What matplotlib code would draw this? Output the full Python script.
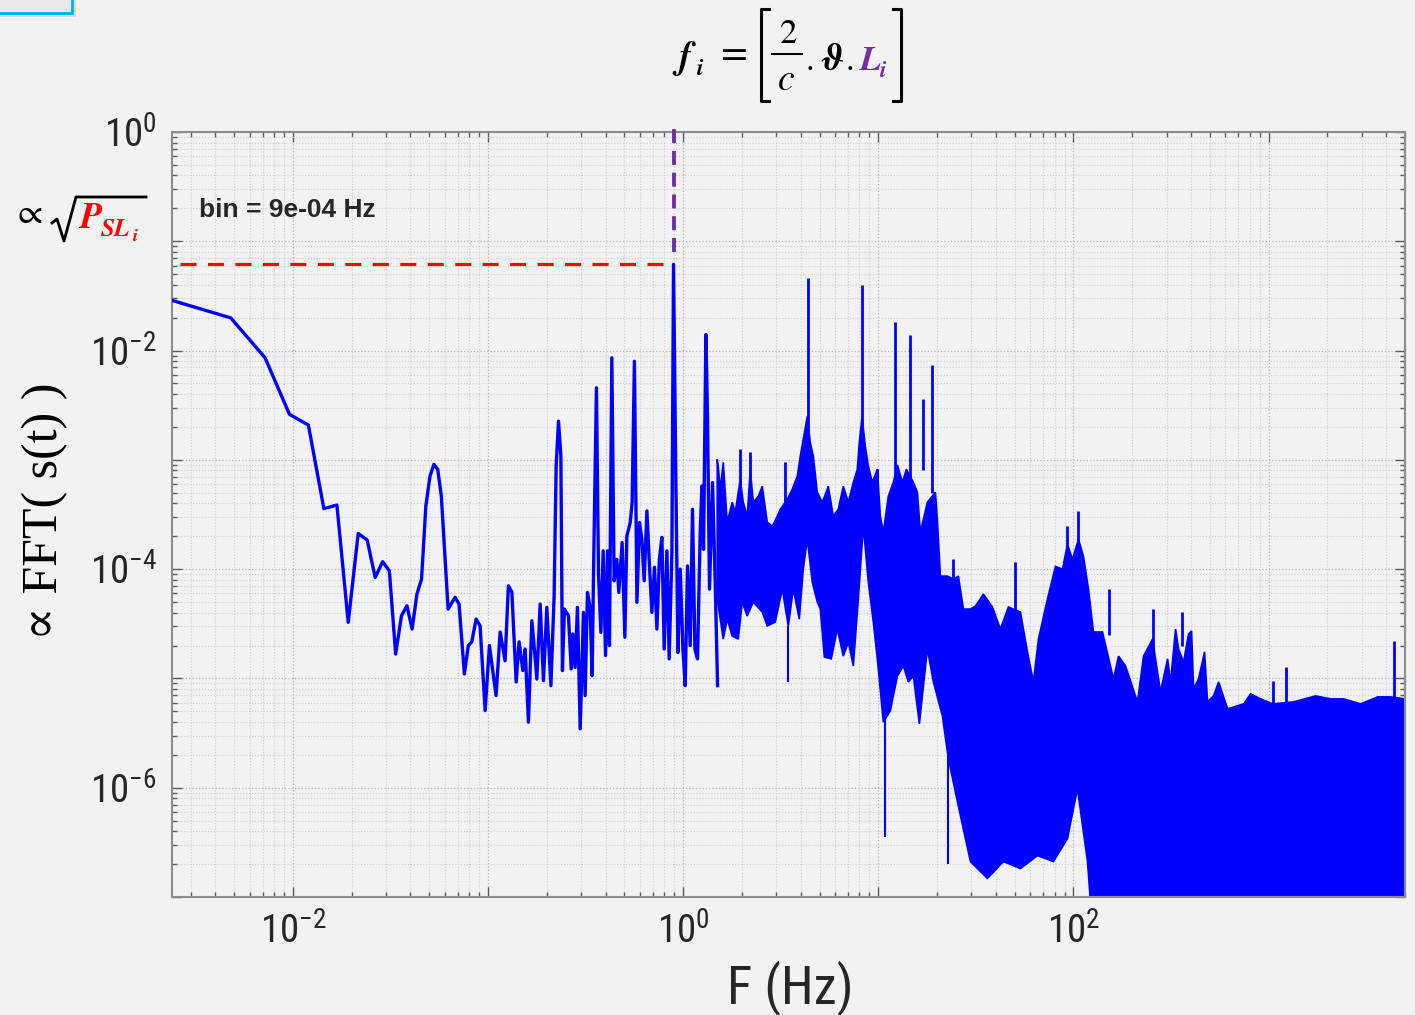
import numpy as np
import matplotlib
matplotlib.use("Agg")
from matplotlib import pyplot as plt
from matplotlib import font_manager
from matplotlib.lines import Line2D
from matplotlib.patches import Rectangle
from matplotlib.ticker import FixedLocator, FuncFormatter, NullFormatter

W, H = 1415, 1015
BG = "#f2f2f2"
BLUE = "#0000ff"
RED = "#ff0000"
PURPLE = "#7030a0"
INK = "#262626"
SERIF = ["Liberation Serif", "DejaVu Serif"]
MATH = ["STIXGeneral", "DejaVu Serif"]


def narrow_family():
    entries = font_manager.fontManager.ttflist
    names = {e.name for e in entries}
    for n in ("Liberation Sans Narrow", "Arial Narrow", "Roboto Condensed",
              "Noto Sans Condensed", "Open Sans Condensed"):
        if n in names:
            return n, "normal", True
    for n in ("Roboto", "Noto Sans", "Open Sans", "Liberation Sans"):
        for e in entries:
            if e.name == n and e.stretch == "condensed" and e.style == "normal":
                return n, "condensed", True
    return "Liberation Sans", "normal", False


NARROW, STRETCH, HAVE_NARROW = narrow_family()
TICK_SIZE = 28 if HAVE_NARROW else 26
XLAB_SIZE = 38 if HAVE_NARROW else 34

# spectrum trace, low frequencies up to the 1.3 Hz line
trace_f = [0.0024, 0.0048, 0.0072, 0.0096, 0.0120, 0.0144, 0.0168, 0.0192, 0.0216, 0.0240,
           0.0264, 0.0288, 0.0312, 0.0336, 0.0360, 0.0384, 0.0408, 0.0432, 0.0456, 0.0480,
           0.0504, 0.0528, 0.0552, 0.0576, 0.0624,
           0.0677, 0.0710, 0.0756, 0.0792, 0.0825, 0.0868, 0.0910, 0.0966, 0.1016, 0.1099,
           0.1153, 0.1222, 0.1271, 0.1324, 0.1393, 0.1442, 0.1507, 0.1549, 0.1610, 0.1676,
           0.1727, 0.1778, 0.1849, 0.1922, 0.2000, 0.2099, 0.2180, 0.2233, 0.2296, 0.2361,
           0.2405, 0.2461, 0.2582, 0.2667, 0.2718, 0.2793, 0.2871, 0.2965, 0.3083, 0.3144,
           0.3231, 0.3334, 0.3413, 0.3483, 0.3592, 0.3681, 0.3786, 0.3890, 0.3999, 0.4093,
           0.4189, 0.4307, 0.4426, 0.4570, 0.4677, 0.4864, 0.5023, 0.5143, 0.5350, 0.5474,
           0.5623, 0.5793, 0.5970, 0.6138, 0.6310, 0.6516, 0.6697, 0.6910, 0.7126, 0.7330,
           0.7551, 0.7777, 0.7990, 0.8250, 0.8474, 0.8750, 0.8920, 0.9173, 0.9393, 0.9652,
           0.9965, 1.024, 1.052, 1.086, 1.116, 1.148, 1.184, 1.222, 1.247, 1.271,
           1.307, 1.332, 1.364, 1.413, 1.459, 1.500]
trace_a = [2.88e-2, 1.99e-2, 8.58e-3, 2.61e-3, 2.08e-3, 3.58e-4, 3.86e-4, 3.26e-5, 2.12e-4, 1.85e-4,
           8.40e-5, 1.17e-4, 9.64e-5, 1.67e-5, 3.75e-5, 4.62e-5, 2.83e-5, 5.91e-5, 8.11e-5, 3.79e-4,
           7.11e-4, 9.10e-4, 8.19e-4, 4.67e-4, 4.31e-5,
           5.52e-5, 4.79e-5, 1.10e-5, 2.00e-5, 2.16e-5, 3.49e-5, 3.03e-5, 5.08e-6, 2.00e-5, 6.97e-6,
           2.66e-5, 1.45e-5, 7.04e-5, 6.17e-5, 9.29e-6, 2.16e-5, 1.18e-5, 1.86e-5, 3.98e-6, 3.37e-5,
           1.86e-5, 9.89e-6, 4.79e-5, 9.55e-6, 4.47e-5, 8.59e-6, 5.71e-5, 8.78e-4, 2.26e-3, 1.08e-3,
           1.18e-5, 4.31e-5, 3.75e-5, 1.22e-5, 2.55e-5, 1.26e-5, 4.47e-5, 3.46e-6, 4.02e-5, 6.97e-6,
           6.12e-5, 4.47e-5, 1.06e-5, 1.42e-4, 4.56e-3, 9.00e-5, 2.64e-5, 1.47e-4, 1.62e-5, 1.47e-4,
           2.00e-5, 8.58e-3, 7.82e-5, 1.23e-4, 6.12e-5, 1.75e-4, 2.38e-5, 2.01e-4, 2.67e-4, 4.09e-4,
           7.98e-3, 4.97e-5, 2.67e-4, 1.88e-4, 7.82e-5, 3.41e-4, 1.19e-4, 4.02e-5, 1.04e-4, 2.83e-5,
           1.23e-4, 1.95e-4, 1.86e-5, 1.47e-4, 1.51e-5, 1.42e-4, 6.15e-2, 6.19e-4, 1.73e-5, 1.00e-4,
           1.86e-5, 8.59e-6, 1.07e-4, 2.00e-5, 3.53e-4, 1.86e-5, 1.51e-5, 2.16e-4, 5.76e-4, 1.52e-4,
           1.40e-2, 2.51e-3, 6.56e-5, 6.19e-4, 7.55e-5, 8.59e-6]

# dense part of the spectrum: upper and lower envelope
band_top_f = [1.494, 1.512, 1.548, 1.604, 1.681, 1.783, 1.848, 1.960, 2.031, 2.129,
              2.206, 2.286, 2.425, 2.542, 2.696, 2.860, 3.034, 3.144, 3.415, 3.622,
              3.842, 3.981, 4.124, 4.324, 4.480, 4.642, 4.867, 5.163, 5.541, 5.878,
              6.234, 6.614, 7.018, 7.444, 7.804, 7.990, 8.250, 8.577, 8.886, 9.316,
              9.883, 10.24, 10.61, 11.25, 11.94, 12.52, 13.28, 13.92, 15.12, 15.85,
              16.42, 17.84, 19.60, 20.07, 20.79, 22.59, 24.25, 25.72, 27.29, 29.64,
              31.44, 34.56, 38.42, 42.23, 46.42, 53.48, 58.09, 62.36, 66.15, 73.56,
              80.86, 87.8, 93.17, 98.83, 106.1, 112.5, 119.4, 126.6, 140.8, 160.4,
              170.2, 184.8, 212.9, 228.6, 254.2, 279.4, 303.5, 314.4, 333.6, 345.6,
              366.5, 388.9, 402.9, 412.6, 437.5, 469.7, 486.6, 522.4, 554.2, 616.3,
              744.4, 809.0, 910.0, 1048, 1343, 1742, 2080, 2425, 2963, 3622,
              4224, 5000]
band_top_a = [1.01e-3, 8.72e-4, 5.38e-4, 9.49e-4, 2.69e-4, 4.09e-4, 3.32e-4, 6.64e-4, 4.09e-4, 3.05e-4,
              8.19e-4, 4.09e-4, 4.64e-4, 5.73e-4, 2.69e-4, 2.47e-4, 3.05e-4, 3.53e-4, 4.36e-4, 5.38e-4,
              7.07e-4, 1.08e-3, 1.54e-3, 2.50e-3, 1.44e-3, 1.08e-3, 5.05e-4, 4.09e-4, 5.73e-4, 3.05e-4,
              3.53e-4, 5.73e-4, 4.09e-4, 6.23e-4, 8.19e-4, 1.44e-3, 2.50e-3, 1.33e-3, 8.72e-4, 6.23e-4,
              8.19e-4, 3.05e-4, 2.18e-4, 4.64e-4, 6.23e-4, 9.00e-4, 6.23e-4, 8.19e-4, 6.23e-4, 5.05e-4,
              2.18e-4, 4.09e-4, 5.05e-4, 2.86e-4, 8.63e-5, 8.63e-5, 8.11e-5, 8.63e-5, 4.31e-5, 4.31e-5,
              4.59e-5, 5.91e-5, 4.50e-5, 2.83e-5, 4.50e-5, 4.05e-5, 1.75e-5, 9.29e-6, 2.29e-5, 5.32e-5,
              1.06e-4, 1.00e-4, 1.69e-4, 1.23e-4, 1.88e-4, 1.31e-4, 6.57e-5, 2.66e-5, 2.66e-5, 9.89e-6,
              1.60e-5, 1.30e-5, 6.10e-6, 1.60e-5, 2.29e-5, 7.53e-6, 1.51e-5, 9.29e-6, 2.83e-5, 1.86e-5,
              1.41e-5, 2.55e-5, 2.72e-5, 8.02e-6, 9.89e-6, 1.75e-5, 6.10e-6, 6.92e-6, 9.29e-6, 5.27e-6,
              5.85e-6, 7.22e-6, 6.50e-6, 5.85e-6, 6.10e-6, 6.92e-6, 6.50e-6, 6.50e-6, 5.85e-6, 6.78e-6,
              6.78e-6, 6.50e-6]
band_bot_f = [1.494, 1.604, 1.681, 1.783, 1.915, 2.007, 2.129, 2.286, 2.542, 2.696,
              2.964, 3.219, 3.456, 3.665, 3.934, 4.124, 4.324, 4.587, 4.867, 5.042,
              5.287, 5.741, 6.161, 6.614, 7.018, 7.444, 7.896, 8.377, 8.886, 9.428,
              9.883, 10.61, 11.52, 12.52, 13.44, 14.25, 15.12, 16.23, 17.84, 19.15,
              21.29, 22.86, 25.42, 29.64, 36.22, 43.75, 53.48, 65.37, 78.96, 93.17,
              104.8, 118.0, 125.2, 5000]
band_bot_a = [5.32e-5, 2.29e-5, 3.49e-5, 2.44e-5, 2.29e-5, 5.00e-5, 3.72e-5, 5.00e-5, 4.05e-5, 3.02e-5,
              3.28e-5, 6.57e-5, 3.00e-5, 6.57e-5, 3.49e-5, 1.00e-4, 1.88e-4, 7.61e-5, 5.00e-5, 4.31e-5,
              1.57e-5, 1.51e-5, 2.83e-5, 1.60e-5, 2.15e-5, 1.30e-5, 5.32e-5, 2.47e-4, 7.61e-5, 3.28e-5,
              1.51e-5, 3.98e-6, 5.05e-6, 1.05e-5, 1.30e-5, 9.29e-6, 1.05e-5, 3.84e-6, 1.86e-5, 9.29e-6,
              4.54e-6, 1.84e-6, 7.45e-7, 2.11e-7, 1.48e-7, 2.11e-7, 1.82e-7, 2.39e-7, 2.11e-7, 3.42e-7,
              9.79e-7, 2.11e-7, 5e-8, 5e-8]

# narrow lines standing out of the dense part
spike_f = [1.960, 2.206, 3.336, 4.34, 8.25, 9.883, 12.23, 14.59, 17.01, 18.86,
           24.25, 50.42, 93.17, 105.7, 151.2, 254.2, 357.9, 1048, 1222, 4375]
spike_base = [5e-4, 5e-4, 3e-4, 1.5e-3, 1.5e-3, 5e-4, 5e-4, 5e-4, 8e-4, 5e-4,
              4e-5, 3e-5, 1.5e-4, 1.5e-4, 2.5e-5, 1.5e-5, 2e-5, 6e-6, 6e-6, 6e-6]
spike_top = [1.25e-3, 1.17e-3, 9.49e-4, 4.64e-2, 4.01e-2, 8.19e-4, 1.84e-2, 1.40e-2, 3.57e-3, 7.45e-3,
             1.23e-4, 1.16e-4, 2.47e-4, 3.39e-4, 6.57e-5, 4.31e-5, 4.05e-5, 9.49e-6, 1.27e-5, 2.20e-5]
dip_f = [3.456, 10.86, 22.86]
dip_top = [3e-5, 1e-5, 3e-6]
dip_bot = [9.29e-6, 3.57e-7, 2.0e-7]

x_decades = [1e-2, 1e-1, 1e0, 1e1, 1e2, 1e3]
y_decades = [1e-7, 1e-6, 1e-5, 1e-4, 1e-3, 1e-2, 1e-1, 1e0]

assert len(trace_f) == len(trace_a)
assert len(band_top_f) == len(band_top_a) and len(band_bot_f) == len(band_bot_a)
assert len(spike_f) == len(spike_base) == len(spike_top)

ipk = int(np.argmax(trace_a))
peak_f, peak_a = trace_f[ipk], trace_a[ipk]

plt.rcParams["font.family"] = [NARROW, "DejaVu Sans"]
plt.rcParams["font.stretch"] = STRETCH
plt.rcParams["mathtext.fontset"] = "custom"
plt.rcParams["mathtext.rm"] = NARROW


def fx(x):
    return x / W


def fy(y):
    return 1 - y / H


def put(x, y, s, **kw):
    return fig.text(fx(x), fy(y), s, **kw)


def minor_ticks(decades, lo, hi):
    out = []
    for d in decades[:-1] + [decades[-1]]:
        for k in range(2, 10):
            v = d * k
            if lo <= v <= hi:
                out.append(v)
    return out


fig = plt.figure(figsize=(W / 100, H / 100), dpi=100, facecolor=BG)
ax = fig.add_axes([fx(172), fy(897), (1405 - 172) / W, (897 - 132) / H])
ax.set_facecolor(BG)
ax.set_xscale("log")
ax.set_yscale("log")
xlo, xhi = 2.4e-3, 5000
ylo, yhi = 1e-7, 1
ax.set_xlim(xlo, xhi)
ax.set_ylim(ylo, yhi)

# spectrum
poly_f = np.concatenate([band_top_f, band_bot_f[::-1]])
poly_a = np.concatenate([band_top_a, band_bot_a[::-1]])
ax.fill(poly_f, poly_a, color=BLUE, lw=1.2, zorder=2)
ax.plot(trace_f, trace_a, color=BLUE, lw=2.4, zorder=3)
ax.vlines(spike_f, spike_base, spike_top, color=BLUE, lw=2.0, zorder=3)
ax.vlines(dip_f, dip_bot, dip_top, color=BLUE, lw=1.5, zorder=3)

# markers of the main peak
ax.plot([2.63e-3, peak_f], [peak_a, peak_a], color=RED, lw=2.3,
        ls=(0, (5.0, 3.6)), zorder=4)
ax.plot([peak_f, peak_f], [0.08, 1.17], color=PURPLE, lw=2.8,
        ls=(0, (3.6, 2.0)), zorder=4, clip_on=False)

# axes look
for s in ax.spines.values():
    s.set_color("#8c8c8c")
    s.set_linewidth(1.5)
ax.grid(True, which="major", ls=":", color="#b4b4b4", lw=0.9)
ax.grid(True, which="minor", ls=":", color="#cdcdcd", lw=0.8)
ax.set_axisbelow(True)

ax.xaxis.set_major_locator(FixedLocator(x_decades))
ax.yaxis.set_major_locator(FixedLocator(y_decades))
ax.xaxis.set_minor_locator(FixedLocator(minor_ticks([1e-3] + x_decades, xlo, xhi)))
ax.yaxis.set_minor_locator(FixedLocator(minor_ticks(y_decades, ylo, yhi)))
ax.xaxis.set_minor_formatter(NullFormatter())
ax.yaxis.set_minor_formatter(NullFormatter())


def even_decades(v, pos):
    e = int(round(np.log10(v)))
    return r"$\mathregular{10^{%d}}$" % e if e % 2 == 0 else ""


ax.xaxis.set_major_formatter(FuncFormatter(even_decades))
ax.yaxis.set_major_formatter(FuncFormatter(even_decades))
ax.tick_params(which="both", direction="in", top=True, right=True,
               color="#5a5a5a", width=1.0)
ax.tick_params(which="major", length=7, labelsize=TICK_SIZE, labelcolor=INK, pad=11)
ax.tick_params(which="minor", length=3.5)

# axis labels
put(790, 988, "F (Hz)", fontsize=XLAB_SIZE, color=INK, ha="center", va="center",
    family=NARROW, fontstretch=STRETCH)
put(45, 511, "\u221d FFT( s(t) )", fontsize=36, rotation=90, ha="center", va="center",
    family=SERIF, color="black")
put(199, 217, "bin = 9e-04 Hz", fontsize=19, weight="bold", color=INK,
    family="Liberation Sans", fontstretch="normal", va="baseline")

# amplitude annotation on the left
put(30, 214, "\u221d", fontsize=26, family=MATH, ha="center", va="center")
fig.add_artist(Line2D([fx(52), fx(57), fx(64), fx(76), fx(146)],
                      [fy(223), fy(219), fy(241), fy(197), fy(197)],
                      transform=fig.transFigure, color="black", lw=2.0))
bi = dict(family=MATH, style="italic", weight="bold", va="baseline", color=RED)
put(79, 228, "P", fontsize=26, **bi)
put(101, 236, "SL", fontsize=18, **bi)
put(133, 241, "i", fontsize=13, **bi)

# frequency relation above the plot
bk = dict(family=MATH, style="italic", weight="bold", va="baseline", color="black")
put(678, 68, "f", fontsize=27, **bk)
put(697, 75, "i", fontsize=17, **bk)
put(733, 56, "=", fontsize=28, family=MATH, ha="center", va="center")
for xs in ([769, 761, 761, 769], [893, 901, 901, 893]):
    fig.add_artist(Line2D([fx(v) for v in xs], [fy(9), fy(9), fy(101), fy(101)],
                          transform=fig.transFigure, color="black", lw=2.2))
put(789, 43, "2", fontsize=25, family=MATH, ha="center", va="baseline")
fig.add_artist(Line2D([fx(772), fx(802)], [fy(54), fy(54)],
                      transform=fig.transFigure, color="black", lw=1.5))
put(786, 90, "c", fontsize=27, family=MATH, style="italic", ha="center", va="baseline")
put(806, 70, ".", fontsize=25, family=MATH, va="baseline")
put(821, 70, "\u03d1", fontsize=27, **bk)
put(846, 70, ".", fontsize=25, family=MATH, va="baseline")
bp = dict(bk, color=PURPLE)
put(860, 70, "L", fontsize=25, **bp)
put(880, 77, "i", fontsize=17, **bp)

# corner of a framed box
fig.add_artist(Rectangle((fx(-10), fy(17)), fx(86), 27 / H, transform=fig.transFigure,
                         facecolor="#c8c8c8", edgecolor="none", alpha=0.6))
fig.add_artist(Rectangle((fx(-10), fy(13)), fx(82), 23 / H, transform=fig.transFigure,
                         facecolor="#e9e9e9", edgecolor="#00b0f0", lw=2.0))

fig.savefig("out.png", dpi=100, facecolor=BG)
